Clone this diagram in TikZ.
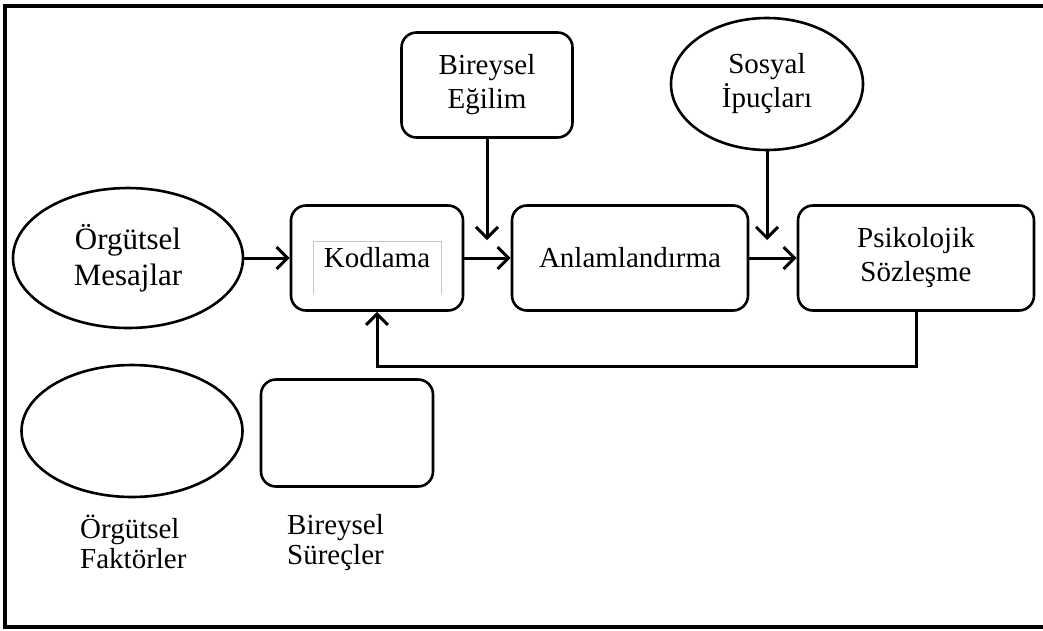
\documentclass[tikz,border=0pt]{standalone}
\usepackage{fontspec}
\setmainfont{Liberation Serif}
\usetikzlibrary{arrows.meta,shapes.geometric}
\tikzset{
  shp/.style={draw, line width=2.6pt, inner sep=0pt, align=center,
    font=\fontsize{29}{34}\selectfont},
  rbox/.style={shp, rectangle, rounded corners=15pt},
  ell/.style={shp, ellipse},
  arr/.style={line width=3pt, -{Straight Barb[length=11pt,width=22pt,line width=3pt]}},
  lbl/.style={inner sep=0pt, align=left, font=\fontsize{29}{30}\selectfont},
}
\begin{document}
\begin{tikzpicture}[x=1pt,y=-1pt]
\useasboundingbox (0,0) rectangle (1043,630);
\draw[line width=3.6pt] (1046,6) -- (5,6) -- (5,627) -- (1046,627);

\node[ell, minimum width=230pt, minimum height=140pt, font=\fontsize{31}{36}\selectfont] (msj) at (128,258) {Örgütsel\\Mesajlar};
\node[rbox, minimum width=172pt, minimum height=105pt] (kod) at (377,258) {Kodlama};
\node[rbox, minimum width=236pt, minimum height=105pt] (anl) at (630,258) {Anlamlandırma};
\node[rbox, minimum width=236pt, minimum height=105pt] (psk) at (916,258) {Psikolojik\\Sözleşme};
\node[rbox, minimum width=171pt, minimum height=105pt] (egl) at (487,85) {Bireysel\\Eğilim};
\node[ell, minimum width=192pt, minimum height=132pt] (sos) at (767,84) {Sosyal\\İpuçları};

\node[ell, minimum width=221pt, minimum height=132pt] (ofe) at (132,431) {};
\node[rbox, minimum width=172pt, minimum height=107pt] (bse) at (347,433) {};
\node[lbl, anchor=west] (oft) at (80,542) {Örgütsel\\Faktörler};
\node[lbl, anchor=west] (bst) at (287,543) {Bireysel\\Süreçler};

% gray text-box artifact inside Kodlama
\draw[gray!45, line width=1pt] (313,294) -- (313,241) -- (441,241) -- (441,294);

\coordinate (ta) at (487,240);
\coordinate (tb) at (767,240);
\coordinate (fb) at (0,366);

\draw[arr] (msj.east) -- (kod.west);
\draw[arr] (kod.east) -- (anl.west);
\draw[arr] (anl.east) -- (psk.west);
\draw[arr] (egl.south) -- (ta);
\draw[arr] (sos.south) -- (tb);
\draw[arr] (psk.south) |- (kod.south |- fb) -- (kod.south);
\end{tikzpicture}
\end{document}
